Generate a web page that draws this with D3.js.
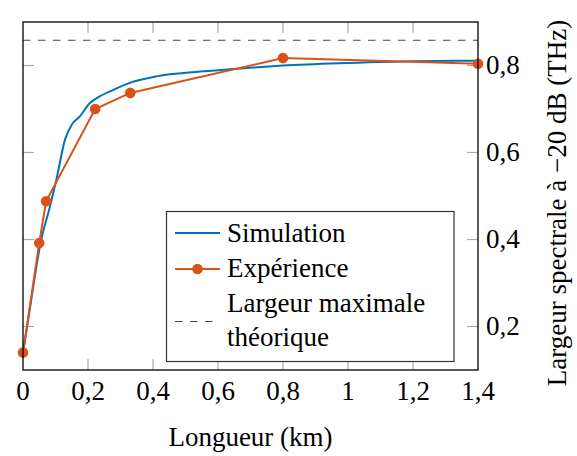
<!doctype html>
<html>
<head>
<script src="https://cdn.jsdelivr.net/npm/d3@7"></script>
<style>
  @font-face {
    font-family: "ChartSerif";
    src: local("Liberation Serif"), local("LiberationSerif"), local("Nimbus Roman"), local("FreeSerif"), local("DejaVu Serif");
    font-display: swap;
  }
</style>
</head>
<body style="margin:0">
<script>
// data
const simX = [0, 0.02, 0.054, 0.083, 0.104, 0.129, 0.15, 0.175, 0.206, 0.227, 0.278, 0.329, 0.411, 0.545, 0.7, 0.8, 1.0, 1.2, 1.4]
const simY = [0.14, 0.235, 0.392, 0.476, 0.542, 0.629, 0.664, 0.683, 0.714, 0.725, 0.744, 0.760, 0.775, 0.786, 0.795, 0.800, 0.806, 0.810, 0.811]
const expX = [0, 0.05, 0.071, 0.222, 0.33, 0.80, 1.4]
const expY = [0.14, 0.392, 0.488, 0.70, 0.737, 0.817, 0.804]
const maxTheo = 0.858
const xTicks = [0, 0.2, 0.4, 0.6, 0.8, 1, 1.2, 1.4]
const yTicks = [0.2, 0.4, 0.6, 0.8]
// keep the file ascii: \u00e9 = e acute, \u00e0 = a grave, \u2212 = minus
const legendLabels = ["Simulation", "Exp\u00e9rience", "Largeur maximale", "th\u00e9orique"]
const xTitle = "Longueur (km)"
const yTitle = "Largeur spectrale \u00e0 \u221220 dB (THz)"

const w = 577
const h = 456
const pL = 23, pR = 478, pT = 22, pB = 370
const blue = "#0072BD"
const orange = "#D95319"
const fontSize = "27px"
const family = d => "Liberation Serif"
const fmt = d => String(d).replace(".", ",")

const svg = d3.select("body").append("svg")
    .attr("width", w)
    .attr("height", h)

const x = d3.scaleLinear().domain([0, 1.4]).range([pL, pR])
const y = d3.scaleLinear().domain([0.1, 0.9]).range([pB, pT])

// inner ticks, gray, on all four sides
const tickLen = 11
const grid = svg.append("g").attr("stroke", "#aaa").attr("stroke-width", 1.2)
xTicks.slice(1, -1).forEach(t => {
    grid.append("line").attr("x1", x(t)).attr("x2", x(t)).attr("y1", pB).attr("y2", pB - tickLen)
    grid.append("line").attr("x1", x(t)).attr("x2", x(t)).attr("y1", pT).attr("y2", pT + tickLen)
})
yTicks.forEach(t => {
    grid.append("line").attr("x1", pL).attr("x2", pL + tickLen).attr("y1", y(t)).attr("y2", y(t))
    grid.append("line").attr("x1", pR).attr("x2", pR - tickLen).attr("y1", y(t)).attr("y2", y(t))
})

// theoretical maximum
svg.append("line")
    .attr("x1", pL).attr("x2", pR)
    .attr("y1", y(maxTheo)).attr("y2", y(maxTheo))
    .attr("stroke", "#444").attr("stroke-width", 1.2)
    .attr("stroke-dasharray", "7.5,7.5")

const line = d3.line()
    .x(d => x(d[0]))
    .y(d => y(d[1]))

const simData = simX.map((v, i) => [v, simY[i]])
const expData = expX.map((v, i) => [v, expY[i]])

svg.append("path")
    .datum(simData)
    .attr("d", line.curve(d3.curveMonotoneX))
    .attr("fill", "none")
    .attr("stroke", blue)
    .attr("stroke-width", 2)

svg.append("path")
    .datum(expData)
    .attr("d", line.curve(d3.curveLinear))
    .attr("fill", "none")
    .attr("stroke", orange)
    .attr("stroke-width", 2)

svg.selectAll("circle.exp")
    .data(expData)
    .enter()
    .append("circle")
    .attr("class", "exp")
    .attr("cx", d => x(d[0]))
    .attr("cy", d => y(d[1]))
    .attr("r", 5.3)
    .attr("fill", orange)

// frame
svg.append("rect")
    .attr("x", pL).attr("y", pT)
    .attr("width", pR - pL).attr("height", pB - pT)
    .attr("fill", "none").attr("stroke", "#000").attr("stroke-width", 1.3)

// all texts go through one helper so the font is set the same way everywhere
function label(sel) {
    return sel
        .attr("font-family", family)
        .style("font-family", "\"Liberation Serif\", ChartSerif, \"Times New Roman\", \"Nimbus Roman\", FreeSerif, serif")
        .attr("font-size", fontSize)
}

// tick labels
label(svg.selectAll("text.xt")
    .data(xTicks)
    .enter()
    .append("text")
    .attr("class", "xt")
    .attr("x", d => x(d))
    .attr("y", 400)
    .attr("text-anchor", "middle"))
    .text(fmt)

label(svg.selectAll("text.yt")
    .data(yTicks)
    .enter()
    .append("text")
    .attr("class", "yt")
    .attr("x", 486)
    .attr("y", d => y(d) + 8.5))
    .text(fmt)

// axis titles
label(svg.append("text")
    .attr("x", (pL + pR) / 2)
    .attr("y", 446)
    .attr("text-anchor", "middle"))
    .text(xTitle)

label(svg.append("text")
    .attr("transform", "translate(566," + ((pT + pB) / 2 + 7) + ") rotate(-90)")
    .attr("text-anchor", "middle"))
    .text(yTitle)

// legend
const lg = svg.append("g")
lg.append("rect")
    .attr("x", 166.5).attr("y", 211.5)
    .attr("width", 287.5).attr("height", 150)
    .attr("fill", "#fff").attr("stroke", "#333").attr("stroke-width", 1.2)
lg.append("line")
    .attr("x1", 175).attr("x2", 220).attr("y1", 233).attr("y2", 233)
    .attr("stroke", blue).attr("stroke-width", 2)
lg.append("line")
    .attr("x1", 175).attr("x2", 220).attr("y1", 269).attr("y2", 269)
    .attr("stroke", orange).attr("stroke-width", 2)
lg.append("circle")
    .attr("cx", 197.5).attr("cy", 269).attr("r", 5.3).attr("fill", orange)
lg.append("line")
    .attr("x1", 175).attr("x2", 220).attr("y1", 321.5).attr("y2", 321.5)
    .attr("stroke", "#444").attr("stroke-width", 1.2).attr("stroke-dasharray", "7.5,7.5")
label(lg.selectAll("text.lt")
    .data(legendLabels)
    .enter()
    .append("text")
    .attr("class", "lt")
    .attr("x", 227)
    .attr("y", (d, i) => [241.5, 277, 312, 346][i]))
    .text(d => d)
</script>
</body>
</html>
